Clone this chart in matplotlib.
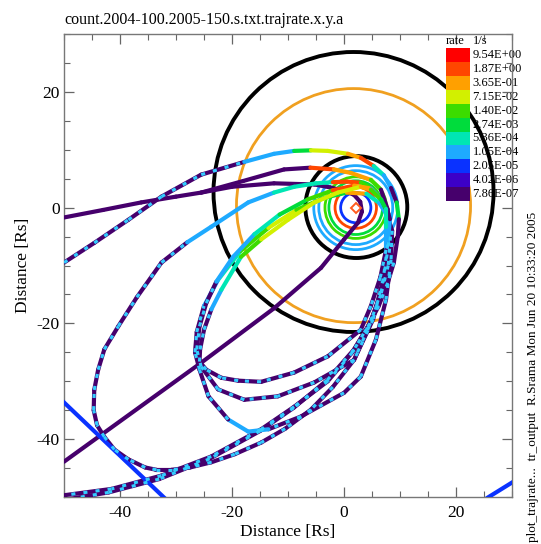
import matplotlib
matplotlib.use('Agg')
import matplotlib.pyplot as plt
from matplotlib.patches import Ellipse, Rectangle
from matplotlib.collections import LineCollection
from matplotlib.ticker import MultipleLocator
import numpy as np

plt.rcParams['font.family'] = ['Liberation Serif', 'DejaVu Serif']
plt.rcParams['axes.unicode_minus'] = False

# rate key, lowest level first
rate_labels = ['7.86E-07', '4.02E-06', '2.05E-05', '1.05E-04', '5.36E-04', '2.74E-03',
               '1.40E-02', '7.15E-02', '3.65E-01', '1.87E+00', '9.54E+00']
level_colors = ['#46006c', '#3c00c8', '#0a32ff', '#1eaaff', '#00e6b4', '#00dc3c',
                '#3cdc00', '#d2f000', '#ffa000', '#ff4600', '#ff0000']
MIX = -1  # flickering between lowest level and 1.05E-04

# moon orbits (centre x, centre y, radius)
orbit_cx = [1.7, 1.7, 2.2]
orbit_cy = [2.7, 0.35, 0.1]
orbit_r = [25.0, 20.9, 9.1]
orbit_col = ['black', '#f0a020', 'black']

# rings close to Saturn
saturn_x, saturn_y = 2.1, 0.0
ring_r = [7.5, 6.6, 5.5, 4.8, 3.7, 2.7]
ring_lev = [3, 3, 6, 5, 9, 2]

# trajectories: points and rate level for each segment
approach_x = [-50, -25.5, -12.5, -4.1, 0.0, 2.5, 3.2, 2.9, 1.8, 0.4, -2.5, -5.3, -12.5, -20.0, -25.5]
approach_y = [-43.9, -26.8, -17.4, -10.4, -5.5, -2.6, -0.7, 1.0, 2.2, 2.8, 3.5, 4.0, 4.2, 3.6, 2.6]
approach_lev = [0] * 14

orbit_a_x = [-50, -44.6, -38.5, -32.6, -25.5, -17.8, -12.5, -8.9, -5.9, -2.9, 0.7, 3.0, 5.3, 7.1, 8.4,
             9.4, 9.8, 9.6, 8.9, 7.8, 6.2, 4.0, 1.5, -2.9, -8.9, -14.8, -23.7, -32.6, -41.5, -50]
orbit_a_y = [-9.5, -6.1, -2.1, 1.9, 5.7, 7.9, 9.3, 9.8, 9.9, 9.8, 9.3, 8.6, 7.2, 5.6, 3.4,
             0.9, -2.0, -5.0, -9.5, -13.0, -17.0, -21.0, -25.0, -30.0, -34.4, -38.3, -43.0, -46.3, -48.6, -49.7]
orbit_a_lev = [MIX] * 5 + [3, 3, 5, 7, 7, 8, 9, 4, 3, 0, 5, 0, 0] + [MIX] * 11

orbit_b_x = [-50, -43, -36.2, -30, -25.5, -18, -10.7, -6.0, -1.8, 1.2, 4.8, 6.6, 7.8, 8.3, 7.9, 6.6,
             4.6, 1.8, -3.0, -9.0, -15.0, -24.0, -33.0, -42.0, -50.0]
orbit_b_y = [-1.7, -0.4, 0.9, 1.9, 2.6, 4.6, 6.6, 6.9, 6.6, 6.0, 4.8, 3.1, -0.3, -5.0, -10.0, -15.0,
             -20.0, -24.5, -29.8, -34.6, -38.6, -43.4, -46.9, -49.2, -50.5]
orbit_b_lev = [0] * 7 + [9, 8, 8, 6, 0, 0] + [MIX] * 11

orbit_c_x = [8.0, 6.8, 4.5, 1.8, -2.0, -5.9, -10.5, -14.8, -19.5, -23.7, -27.5, -30.8, -33.5, -35.5, -38.5,
             -41.0, -42.8, -44.1, -44.7, -44.6, -43.9, -42.8, -40.3, -37.0, -32.6, -28.0, -23.7, -17.1, -12.5,
             -8.9, -5.0, -2.0, 0.5, 3.0, 5.5, 7.2, 8.0, 8.0]
orbit_c_y = [-6.0, -14.0, -20.5, -26.3, -31.0, -34.9, -38.2, -40.6, -42.6, -44.0, -44.9, -45.3, -45.3, -44.9, -43.5,
             -41.8, -39.6, -37.6, -35.0, -31.5, -28.0, -24.5, -20.5, -15.5, -9.5, -6.0, -3.3, 0.9, 2.6,
             3.6, 4.2, 4.4, 4.5, 4.3, 3.0, 0.5, -3.0, -6.0]
orbit_c_lev = [MIX] * 25 + [3, 3, 3, 4, 4, 4, 9, 9, 6, 6, 3, 0]

orbit_d_x = [7.5, 7.5, 6.5, 4.8, 3.0, -2.9, -8.9, -14.8, -18.9, -21.9, -24.6, -25.8, -25.7, -25.0, -23.7,
             -21.9, -18.4, -14.8, -10.0, -5.3, -1.1, 3.0, 4.8, 6.6, 7.5, 7.5]
orbit_d_y = [-3.3, -7.3, -12.0, -17.0, -21.1, -25.7, -28.5, -30.1, -29.9, -29.4, -28.0, -26.6, -24.5, -21.1, -17.6,
             -14.2, -8.5, -5.5, -2.1, 0.9, 2.6, 3.6, 3.1, 1.4, -0.3, -3.3]
orbit_d_lev = [3] + [MIX] * 13 + [3, 4, 6, 7, 7, 7, 7, 8, 6, 5, 4]

orbit_e_x = [8.2, 7.8, 7.0, 5.2, 1.8, -5.3, -11.8, -17.8, -22.5, -25.5, -26.3, -25.8, -24.6, -22.8, -19.8,
             -16.0, -11.5, -6.5, -2.0, 1.8, 4.8, 6.8, 7.9, 8.2]
orbit_e_y = [-2.0, -6.4, -12.4, -19.3, -26.3, -30.2, -32.6, -33.2, -31.4, -27.5, -24.5, -20.5, -16.5, -12.8, -8.5,
             -4.6, -1.2, 1.4, 3.0, 3.8, 3.3, 1.2, -1.0, -2.0]
orbit_e_lev = [3] + [MIX] * 12 + [3, 3, 4, 5, 6, 9, 8, 3, 0, 0]

orbit_f_x = [8.6, 8.4, 7.5, 5.7, 3.0, 0.0, -7.7, -13.5, -17.1, -20.7, -24.2, -25.8, -26.6, -26.3, -25.0,
             -22.5, -18.5, -13.5, -8.5, -3.5, 0.5, 4.0, 6.3, 7.8, 8.6]
orbit_f_y = [-4.0, -9.0, -15.9, -22.8, -29.2, -32.0, -36.1, -38.3, -38.7, -36.6, -32.6, -28.0, -25.0, -21.5, -17.0,
             -12.5, -7.5, -3.5, -0.4, 1.7, 2.6, 2.4, 0.8, -1.5, -4.0]
orbit_f_lev = [MIX] * 7 + [3, 3] + [MIX] * 5 + [3, 4, 6, 7, 6, 5, 8, 4, 3, 0]

blue1_x, blue1_y = [-50.5, -31.8], [-33.2, -50.4]
blue2_x, blue2_y = [25.5, 30.5], [-50.2, -47.2]

tracks = [
    (approach_x, approach_y, approach_lev),
    (orbit_c_x, orbit_c_y, orbit_c_lev),
    (orbit_a_x, orbit_a_y, orbit_a_lev),
    (orbit_b_x, orbit_b_y, orbit_b_lev),
    (orbit_f_x, orbit_f_y, orbit_f_lev),
    (orbit_e_x, orbit_e_y, orbit_e_lev),
    (orbit_d_x, orbit_d_y, orbit_d_lev),
    (blue1_x, blue1_y, [2]),
    (blue2_x, blue2_y, [2]),
]


def draw_track(ax, xs, ys, lev, lw=3.0):
    pts = np.column_stack([xs, ys])
    segs = np.stack([pts[:-1], pts[1:]], axis=1)
    cols = [level_colors[0] if l < 0 else level_colors[l] for l in lev]
    ax.add_collection(LineCollection(segs, colors=cols, linewidths=lw,
                                     capstyle='round', joinstyle='round', zorder=3))
    mix = [s for s, l in zip(segs, lev) if l < 0]
    if mix:
        ax.add_collection(LineCollection(mix, colors='#33ccff', linewidths=lw * 0.75,
                                         linestyles=[(0, (1.3, 2.6))], zorder=3.1))


fig = plt.figure(figsize=(5.41, 5.44), dpi=100)
ax = fig.add_axes([64 / 541, 1 - 497 / 544, 448 / 541, 463 / 544])
ax.set_xlim(-50, 30)
ax.set_ylim(-50, 30)

# keep circles round on screen
k = (448 / 80) / (463 / 80)

for cx, cy, r, c in zip(orbit_cx, orbit_cy, orbit_r, orbit_col):
    ax.add_patch(Ellipse((cx, cy), 2 * r, 2 * r * k, fill=False, ec=c,
                         lw=2.8 if c == 'black' else 2.0, zorder=2))

for r, l in zip(ring_r, ring_lev):
    ax.add_patch(Ellipse((saturn_x, saturn_y), 2 * r, 2 * r * k, fill=False,
                         ec=level_colors[l], lw=2.0, zorder=2.5))

for xs, ys, lev in tracks:
    draw_track(ax, xs, ys, lev)

ax.plot(saturn_x, saturn_y, marker='D', ms=5, mfc='white', mec='#ff5a1e', mew=1.4, zorder=4)

# rate key
box_w, box_h = 0.053, 0.0301
x0, ytop = 0.853, 0.970
for i, (lab, col) in enumerate(zip(rate_labels[::-1], level_colors[::-1])):
    y = ytop - (i + 1) * box_h
    ax.add_patch(Rectangle((x0, y), box_w, box_h, transform=ax.transAxes,
                           fc=col, ec='none', zorder=6, clip_on=False))
    ax.text(x0 + box_w + 0.006, y + box_h / 2, lab, transform=ax.transAxes,
            fontsize=9, va='center', ha='left', zorder=1.5)
ax.text(x0, ytop + 0.002, 'rate', transform=ax.transAxes, fontsize=9,
        va='bottom', ha='left', zorder=6)
ax.text(x0 + box_w + 0.006, ytop + 0.002, '1/s', transform=ax.transAxes, fontsize=9,
        va='bottom', ha='left', zorder=6)

ax.set_xticks([-40, -20, 0, 20])
ax.set_yticks([-40, -20, 0, 20])
ax.xaxis.set_minor_locator(MultipleLocator(5))
ax.yaxis.set_minor_locator(MultipleLocator(5))
ax.tick_params(which='both', direction='in', top=True, right=True, color='#666666', labelsize=12.5)
ax.tick_params(which='major', length=7, width=0.9)
ax.tick_params(which='minor', length=4, width=0.8)
ax.tick_params(axis='x', pad=6)
ax.tick_params(axis='y', pad=3)
for s in ax.spines.values():
    s.set_color('#777777')
    s.set_linewidth(1.0)

ax.set_xlabel('Distance [Rs]', fontsize=12.5, labelpad=2)
ax.set_ylabel('Distance [Rs]', fontsize=12.5, labelpad=4)
ax.set_title('count.2004-100.2005-150.s.txt.trajrate.x.y.a', loc='left', fontsize=11.5, pad=7)

fig.text(0.985, 0.004, 'plot_trajrate...  tr_output  R.Srama Mon Jun 20 10:33:20 2005',
         rotation=90, fontsize=9.5, va='bottom', ha='center')

fig.savefig('out.png', dpi=100)
